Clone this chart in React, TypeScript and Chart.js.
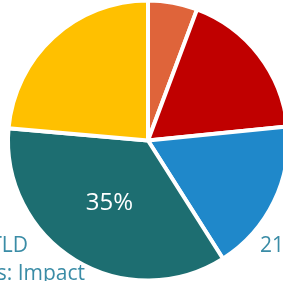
import React, { useEffect, useRef } from "react";
import { Chart, registerables } from "chart.js";

Chart.register(...registerables);

const categories = ["Category A", "Category B", "Category C", "Category D", "Category E"];
const values = [5.7, 17.7, 17.6, 35.4, 23.6];
const colors = ["#DF643A", "#C00000", "#1F88CA", "#1D6E71", "#FFC000"];
const labelledSlices = [3];
const sideTexts = ["TLD", "s: Impact", "21%"];

const textPlugin = {
  id: "sideText",
  afterDatasetsDraw(chart: any) {
    const ctx = chart.ctx;
    const meta = chart.getDatasetMeta(0);
    const total = values.reduce((a, b) => a + b, 0);
    ctx.save();
    labelledSlices.forEach((i) => {
      const arc = meta.data[i];
      const p = arc.getProps(["x", "y", "startAngle", "endAngle", "outerRadius"], true);
      const mid = (p.startAngle + p.endAngle) / 2;
      const r = p.outerRadius * 0.53;
      ctx.fillStyle = "#FFFFFF";
      ctx.font = '24px "Open Sans", sans-serif';
      ctx.textAlign = "center";
      ctx.textBaseline = "middle";
      ctx.fillText(Math.round((values[i] / total) * 100) + "%", p.x + Math.cos(mid) * r, p.y + Math.sin(mid) * r - 1);
    });
    const area = chart.chartArea;
    const cx = (area.left + area.right) / 2;
    const cy = (area.top + area.bottom) / 2;
    ctx.fillStyle = "#3A8CA6";
    ctx.font = '21px "Open Sans", sans-serif';
    ctx.textBaseline = "alphabetic";
    ctx.textAlign = "right";
    ctx.fillText(sideTexts[0], cx - 120, cy + 111);
    ctx.fillText(sideTexts[1], cx - 63, cy + 139);
    ctx.textAlign = "left";
    ctx.fillText(sideTexts[2], cx + 112, cy + 111);
    ctx.restore();
  },
};

export default function App() {
  const ref = useRef<HTMLCanvasElement | null>(null);
  useEffect(() => {
    if (!ref.current) return;
    const chart = new Chart(ref.current, {
      type: "pie",
      data: {
        labels: categories,
        datasets: [
          {
            data: values,
            backgroundColor: colors,
            borderColor: "#FFFFFF",
            borderWidth: 4,
          },
        ],
      },
      options: {
        animation: false,
        responsive: false,
        maintainAspectRatio: false,
        layout: { padding: { left: 6, right: 6, top: 0.5, bottom: 0.5 } },
        plugins: { legend: { display: false }, tooltip: { enabled: false } },
      },
      plugins: [textPlugin],
    });
    return () => chart.destroy();
  }, []);
  return (
    <div style={{ position: "fixed", left: 0, top: 0, width: 283, height: 281, overflow: "hidden", background: "#fff" }}>
      <canvas ref={ref} width={296} height={285} style={{ position: "absolute", left: 0, top: -2, width: 296, height: 285 }} />
    </div>
  );
}
